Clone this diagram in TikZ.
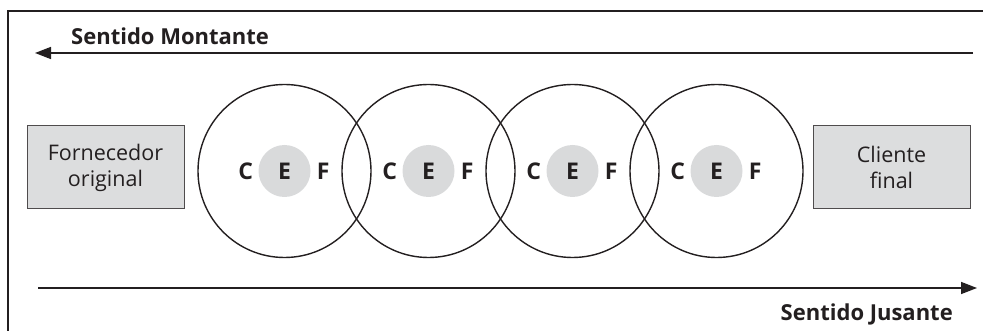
\documentclass[tikz,border=0pt]{standalone}
\usepackage{fontspec}
\setmainfont{Open Sans}
\usepackage{xcolor}
\usetikzlibrary{positioning, arrows.meta}
\definecolor{boxgrey}{HTML}{DCDDDE}
\definecolor{discgrey}{HTML}{D9DADB}
\definecolor{ink}{HTML}{231F20}

\begin{document}
\begin{tikzpicture}[
  x=1pt, y=-1pt,
  arr/.style={-{Triangle[length=16pt, width=12pt]}, line width=1.6pt, draw=ink},
  endbox/.style={
    rectangle, sharp corners,
    draw=ink!80, line width=1pt, fill=boxgrey,
    text=ink, font=\fontsize{21.5}{26}\selectfont,
    minimum width=157pt, minimum height=83pt,
    align=center, inner sep=0pt
  },
  firm/.style={circle, draw=ink, line width=1.4pt, minimum size=173pt, inner sep=0pt},
  core/.style={circle, fill=discgrey, text=ink, minimum size=52pt, inner sep=0pt,
    font=\fontsize{23}{26}\selectfont\bfseries},
  lbl/.style={text=ink, font=\fontsize{23}{26}\selectfont\bfseries, inner sep=0pt},
  dirlbl/.style={text=ink, font=\fontsize{22}{26}\selectfont\bfseries, inner sep=0pt}
]

%% page is 983 x 331, coordinates in pt with y downwards
\useasboundingbox (0,0) rectangle (983,331);

%% ─── FRAME (left and top edges only) ────────────────────────────────────────
\draw[line width=2.4pt, draw=ink] (8,331) -- (8,11) -- (983,11);

%% ─── UPSTREAM ARROW ─────────────────────────────────────────────────────────
\coordinate (mont_from) at (973,53);
\coordinate (mont_to) at (35,53);
\draw[arr] (mont_from) -- (mont_to);
\node[dirlbl, anchor=base west] (mont_lbl) at (71,45) {Sentido Montante};

%% ─── END BOXES ──────────────────────────────────────────────────────────────
\node[endbox] (forn) at (105.5,167.5) {Fornecedor\\original};
\node[endbox] (cli) at (891.5,167.5) {Cliente\\final};

%% ─── CHAIN OF FIRMS (centres 144 apart) ─────────────────────────────────────
\node[firm] (firm1) at (284.5,171) {};
\node[firm] (firm2) at (428.5,171) {};
\node[firm] (firm3) at (572.5,171) {};
\node[firm] (firm4) at (716.5,171) {};

\node[core] (e1) at (284.5,171) {E};
\node[lbl, left=5pt of e1] (c1) {C};
\node[lbl, right=6pt of e1] (f1) {F};

\node[core] (e2) at (428.5,171) {E};
\node[lbl, left=5pt of e2] (c2) {C};
\node[lbl, right=6pt of e2] (f2) {F};

\node[core] (e3) at (572.5,171) {E};
\node[lbl, left=5pt of e3] (c3) {C};
\node[lbl, right=6pt of e3] (f3) {F};

\node[core] (e4) at (716.5,171) {E};
\node[lbl, left=5pt of e4] (c4) {C};
\node[lbl, right=6pt of e4] (f4) {F};

%% ─── DOWNSTREAM ARROW ───────────────────────────────────────────────────────
\coordinate (jus_from) at (38,288);
\coordinate (jus_to) at (977,288);
\draw[arr] (jus_from) -- (jus_to);
\node[dirlbl, anchor=base east] (jus_lbl) at (953,320) {Sentido Jusante};

\end{tikzpicture}
\end{document}
